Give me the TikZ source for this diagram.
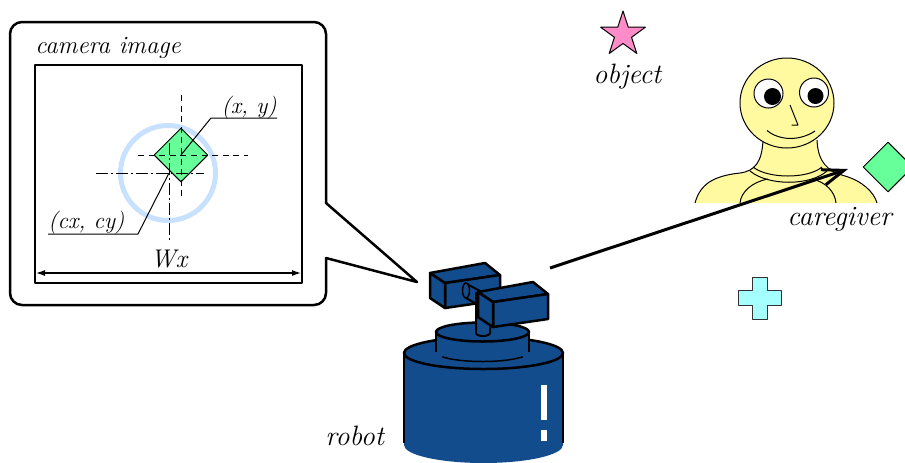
\documentclass[tikz,border=0pt]{standalone}
\usepackage{fontspec}
\usetikzlibrary{arrows.meta,shapes.geometric,calc}

\definecolor{robotblue}{RGB}{18,76,140}
\definecolor{targetgreen}{RGB}{102,255,153}
\definecolor{ringblue}{RGB}{200,225,255}
\definecolor{starpink}{RGB}{255,140,200}
\definecolor{crosscyan}{RGB}{166,255,255}
\definecolor{skin}{RGB}{255,250,160}

\tikzset{
	caption/.style={font=\fontsize{14}{16}\selectfont\itshape, inner sep=0, anchor=base west},
	coordlabel/.style={font=\fontsize{11.6}{14}\selectfont\itshape, inner sep=0},
	heavy/.style={line width=1.25pt, line join=round},
	fine/.style={line width=0.5pt, line join=round},
	crosshair/.style={line width=0.5pt, dash pattern=on 3pt off 2.3pt},
	centreline/.style={line width=0.5pt, dash pattern=on 6pt off 1.5pt on 1pt off 1.5pt},
	camera head/.pic={
		\draw [heavy, fill=robotblue] (0,0) -- (55,-10) -- (70,2) -- (15,10) -- cycle;
		\draw [heavy, fill=robotblue] (15,10) -- (70,2) -- (70,27) -- (15,35) -- cycle;
		\draw [heavy, fill=robotblue] (0,0) -- (15,10) -- (15,35) -- (0,25) -- cycle;
	},
}

\begin{document}
\begin{tikzpicture}[x=0.5pt, y=-0.5pt]
	\useasboundingbox (0,0) rectangle (905,462);

	% Balloon with the camera image
	\draw [heavy, rounded corners=6pt] (10,22) rectangle (326,305);
	\fill [white] (324,204) rectangle (329,257);
	\coordinate (tail) at (417,282);
	\draw [heavy] (326,203) -- (tail) -- (326,258);
	\node (cameralabel)
	      [ caption
	      , font=\fontsize{12.4}{15}\selectfont\itshape
	      ]
	      at (35,53)
	      {camera image};
	\draw [heavy] (35,65) rectangle (302,283);

	% Target and image centre
	\coordinate (target) at (181,155);
	\coordinate (centre) at (169,173);
	\draw [ringblue, line width=2.5pt] (168,173) circle (47.5);
	\node (seen)
	      [ diamond
	      , draw
	      , fine
	      , fill=targetgreen
	      , minimum size=27pt
	      , inner sep=0
	      ]
	      at (target)
	      {};
	\draw [crosshair] (181,95) -- (181,197)  (138,155) -- (248,155);
	\draw [centreline] (96,173) -- (204,173)  (169,143) -- (169,240);

	% Leaders
	\node (xy) [coordlabel, anchor=base east] at (277,113) {(x, y)};
	\node (cxcy) [coordlabel, anchor=base west] at (48,228) {(cx, cy)};
	\draw [fine] (target) -- (211,118) -- ($(xy.base east)+(0,5)$);
	\draw [fine] (centre) -- (138,234) -- ($(cxcy.base west)+(0,6)$);

	% Width of the image
	\coordinate (wxwest) at (36,273);
	\coordinate (wxeast) at (301,273);
	\draw [line width=0.6pt, {Latex[length=4.5pt, width=3pt]}-{Latex[length=4.5pt, width=3pt]}]
	      (wxwest) -- (wxeast);
	\node (wx)
	      [ caption
	      , anchor=base
	      , font=\fontsize{12.8}{15}\selectfont\itshape
	      ]
	      at (169,267)
	      {Wx};

	% Robot body
	\fill [robotblue] (404,353) -- (404,445)
	      arc [start angle=180, end angle=0, x radius=79.5, y radius=18] -- (563,353) -- cycle;
	\draw [heavy] (404,353) -- (404,443)  (563,353) -- (563,443);
	\draw [heavy, fill=robotblue] (483.5,353) ellipse [x radius=79.5, y radius=16];
	\fill [white] (541,385) rectangle (547,420);
	\fill [white] (541,430) rectangle (547,441);

	% Turntable
	\fill [robotblue] (436,332) -- (436,352)
	      arc [start angle=180, end angle=0, x radius=46.5, y radius=9.5] -- (529,332) -- cycle;
	\draw [heavy] (436,332) -- (436,352)  (529,332) -- (529,352);
	\draw [line width=0.75pt] (442.2,356.75)
	      arc [start angle=150, end angle=30, x radius=46.5, y radius=9.5];
	\draw [heavy, fill=robotblue] (482.5,332) ellipse [x radius=46.5, y radius=9.5];

	% Heads, axle and post
	\pic at (430,273) {camera head};
	\draw [line width=1pt, fill=robotblue] (465,283) -- (480,291) -- (480,306) -- (466,298);
	\draw [line width=0.75pt, fill=robotblue] (466,290.5) ellipse [x radius=3.5, y radius=7.5];
	\draw [line width=1pt, fill=robotblue] (476,292) -- (476,333)
	      arc [start angle=180, end angle=0, x radius=7, y radius=3] -- (490,292);
	\pic at (478,292) {camera head};

	% Object
	\node (star)
	      [ star
	      , star points=5
	      , star point ratio=2.618
	      , minimum size=23.5pt
	      , inner sep=0
	      , draw
	      , fine
	      , fill=starpink
	      ]
	      at (623,34.5)
	      {};

	% Cross
	\draw [fine, draw=black!80, fill=crosscyan]
	      (752,277) -- (767,277) -- (767,290) -- (781,290) -- (781,305) -- (767,305) --
	      (767,319) -- (752,319) -- (752,305) -- (738,305) -- (738,290) -- (752,290) -- cycle;

	% Caregiver
	\fill [skin] (695,203) .. controls (700,185) and (712,176) .. (740,173)
	      .. controls (755,171) and (762,162) .. (763,140) -- (817,140)
	      .. controls (818,162) and (827,171) .. (845,176)
	      .. controls (862,181) and (874,192) .. (877,203) -- cycle;
	\draw [fine] (695,203) .. controls (700,185) and (712,176) .. (740,173)
	      .. controls (755,171) and (762,162) .. (763,140);
	\draw [fine] (817,140) .. controls (818,162) and (827,171) .. (845,176)
	      .. controls (862,181) and (874,192) .. (877,203);
	\draw [fine] (753,167) .. controls (768,179) and (808,179) .. (822,167);
	\draw [fine] (750,171) .. controls (768,186) and (810,186) .. (827,171);
	\draw [fine] (740,203) .. controls (741,192) and (752,182) .. (768,179);
	\draw [fine] (836,203) .. controls (835,192) and (826,182) .. (812,179);
	\draw [fine, fill=skin] (787,103) ellipse [x radius=47, y radius=45];
	\draw [fine, fill=white] (768.5,93.5) circle (14.5);
	\draw [fine, fill=white] (814,92.5) circle (14.5);
	\fill (772.5,96.5) circle (8.5);
	\fill (815.5,96) circle (8);
	\draw [fine] (790,105) -- (798,125) -- (791.5,125);
	\draw [fine] (767,130.5) .. controls (780,141) and (800,141) .. (815,131);
	\node (toy)
	      [ diamond
	      , draw
	      , fine
	      , fill=targetgreen
	      , minimum size=25pt
	      , inner sep=0
	      ]
	      at (888,167)
	      {};

	% Gaze
	\coordinate (gazestart) at (550,268);
	\coordinate (gazeend) at (848,169);
	\draw [line width=1.5pt, -{Straight Barb[length=10.8pt, width=7.9pt]}]
	      (gazestart) -- (gazeend);

	% Labels
	\foreach \name/\pos/\lab in {object/{593,83}/object,caregiver/{787,225}/caregiver,robot/{325,445}/robot}{
		\node (\name) [caption] at (\pos) {\lab};
	}
\end{tikzpicture}
\end{document}
